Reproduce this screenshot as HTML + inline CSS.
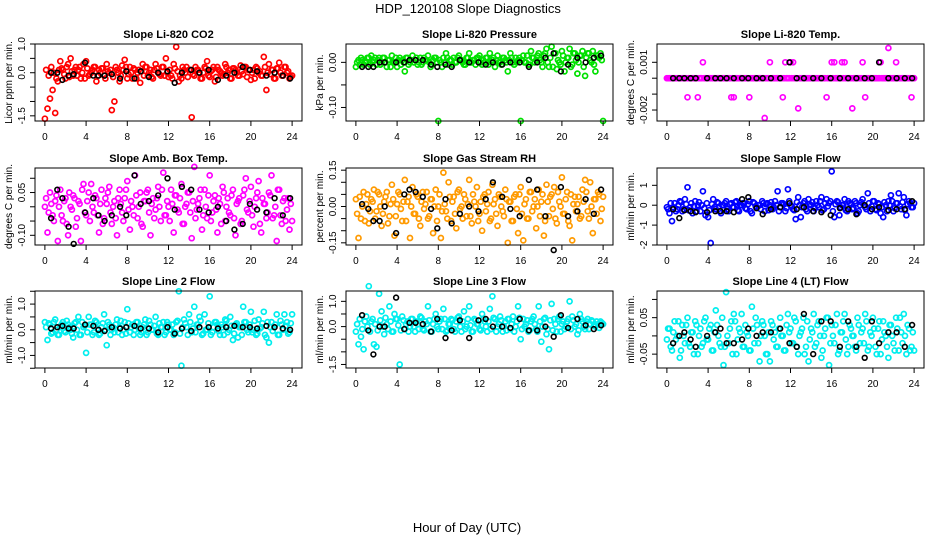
<!DOCTYPE html>
<html><head><meta charset="utf-8"><title>HDP_120108 Slope Diagnostics</title>
<style>
html,body{margin:0;padding:0;background:#fff;}
svg{display:block;font-family:"Liberation Sans",Arial,sans-serif;}
</style></head>
<body>
<svg id="chart" width="936" height="540" viewBox="0 0 936 540" xmlns="http://www.w3.org/2000/svg">
<rect x="0" y="0" width="936" height="540" fill="#fff"/>
<text x="468" y="13" text-anchor="middle" font-size="13">HDP_120108  Slope Diagnostics</text>
<text x="467" y="532" text-anchor="middle" font-size="13">Hour of Day (UTC)</text>
</svg>
<script>
// ---- shared x categories ----
const hours=[0,0.25,0.5,0.75,1,1.25,1.5,1.75,2,2.25,2.5,2.75,3,3.25,3.5,3.75,4,4.25,4.5,4.75,5,5.25,5.5,5.75,6,6.25,6.5,6.75,7,7.25,7.5,7.75,8,8.25,8.5,8.75,9,9.25,9.5,9.75,10,10.25,10.5,10.75,11,11.25,11.5,11.75,12,12.25,12.5,12.75,13,13.25,13.5,13.75,14,14.25,14.5,14.75,15,15.25,15.5,15.75,16,16.25,16.5,16.75,17,17.25,17.5,17.75,18,18.25,18.5,18.75,19,19.25,19.5,19.75,20,20.25,20.5,20.75,21,21.25,21.5,21.75,22,22.25,22.5,22.75,23,23.25,23.5,23.75,24];
const hours2=[0.12,0.37,0.62,0.87,1.12,1.37,1.62,1.87,2.12,2.37,2.62,2.87,3.12,3.37,3.62,3.87,4.12,4.37,4.62,4.87,5.12,5.37,5.62,5.87,6.12,6.37,6.62,6.87,7.12,7.37,7.62,7.87,8.12,8.37,8.62,8.87,9.12,9.37,9.62,9.87,10.12,10.37,10.62,10.87,11.12,11.37,11.62,11.87,12.12,12.37,12.62,12.87,13.12,13.37,13.62,13.87,14.12,14.37,14.62,14.87,15.12,15.37,15.62,15.87,16.12,16.37,16.62,16.87,17.12,17.37,17.62,17.87,18.12,18.37,18.62,18.87,19.12,19.37,19.62,19.87,20.12,20.37,20.62,20.87,21.12,21.37,21.62,21.87,22.12,22.37,22.62,22.87,23.12,23.37,23.62,23.87];
const blackHours=[0.6,1.2,1.7,2.3,2.8,3.9,4.7,5.2,5.8,6.5,7.3,7.9,8.7,9.3,10.1,11.0,11.9,12.6,13.3,14.2,15.0,15.9,16.8,17.6,18.4,19.2,19.9,20.6,21.5,22.3,23.1,23.8];
const xTicks=[0,4,8,12,16,20,24];

// ---- Panel 1: Li-820 CO2 ----
const co2Vals=[-1.6,-1.25,-0.9,-0.6,-1.4,-0.3,0.4,0.1,-0.2,0.3,0.5,-0.1,0.2,0.1,-0.2,0.3,0.4,-0.1,0.0,0.2,-0.3,0.1,0.15,-0.1,0.3,0.0,-1.3,-1.0,0.1,-0.3,0.25,0.45,-0.2,0.2,-0.2,0.1,0.0,-0.35,0.3,0.2,-0.1,0.1,-0.2,0.3,0.0,-0.1,0.2,0.5,-0.15,-0.1,0.3,0.9,-0.3,-0.2,0.1,0.2,0.1,-1.55,-0.1,0.1,0.0,-0.2,0.2,0.4,-0.15,0.1,-0.3,0.2,0.05,-0.1,0.3,0.0,-0.2,0.15,0.1,-0.1,0.25,-0.05,0.2,0.1,-0.25,0.1,0.2,0.0,-0.1,0.55,-0.6,0.3,0.1,-0.2,0.15,0.35,-0.1,0.2,0.0,-0.2,-0.1];
const co2Vals2=[0.1,-0.1,0.2,0.0,-0.2,0.1,0.15,-0.05,0.2,-0.15,0.05,0.1,-0.1,0.2,0.0,-0.2,0.15,-0.05,0.1,0.2,-0.1,0.0,0.15,-0.2,0.05,0.1,-0.15,0.2,0.0,-0.1,0.1,0.2,-0.05,0.0,0.15,-0.2,0.1,0.05,-0.1,0.2,0.0,-0.15,0.1,0.15,-0.05,0.2,-0.1,0.0,0.1,-0.2,0.15,0.05,-0.1,0.2,0.0,-0.15,0.1,-0.05,0.2,0.1,-0.2,0.0,0.15,-0.1,0.05,0.2,-0.15,0.1,0.0,-0.05,0.2,0.1,-0.2,0.15,0.0,-0.1,0.05,0.2,-0.15,0.1,0.0,-0.2,0.15,0.05,-0.1,0.2,0.0,-0.05,0.1,-0.2,0.15,0.0,-0.1,0.2,0.05,-0.15];
const co2Black=[0.0,0.0,-0.25,-0.1,-0.05,0.35,-0.1,-0.1,-0.1,-0.05,-0.2,0.05,-0.2,0.05,-0.15,0.0,0.05,-0.35,0.0,0.1,0.0,0.1,-0.25,-0.1,0.0,0.2,0.1,0.05,-0.1,0.0,-0.1,-0.2];
const co2Ticks=[-1.5,-1.0,-0.5,0.0,0.5,1.0];
const co2Labels=["-1.5","","","0.0","","1.0"];

// ---- Panel 2: Li-820 Pressure ----
const presVals=[-0.01,0.005,0.01,-0.005,0.0,0.01,0.015,0.005,-0.005,0.01,0.0,0.01,-0.01,0.005,0.015,0.0,-0.01,0.01,0.005,-0.02,0.01,0.0,0.015,0.005,-0.005,0.01,0.0,0.005,0.015,-0.01,0.005,0.01,-0.13,0.0,0.01,0.02,-0.005,0.005,0.01,0.0,0.015,0.005,-0.005,0.01,0.02,0.0,0.005,0.01,0.015,-0.005,0.0,0.01,0.02,0.005,-0.01,0.015,0.0,0.01,0.005,-0.02,0.02,0.0,0.01,0.005,-0.13,0.015,0.0,-0.005,0.025,0.01,0.005,0.02,0.0,0.015,0.03,-0.01,0.035,0.02,-0.015,0.0,0.025,-0.02,0.01,0.03,-0.005,0.02,-0.025,0.015,0.025,-0.03,0.02,0.005,0.025,-0.02,0.015,0.02,-0.13];
const presVals2=[0.0,-0.005,0.005,0.0,0.01,-0.005,0.0,0.01,0.005,-0.005,0.01,0.0,0.005,-0.01,0.0,0.01,0.005,-0.005,0.0,0.01,-0.005,0.005,0.0,0.01,0.0,-0.005,0.01,0.005,0.0,-0.005,0.01,0.0,0.005,-0.01,0.0,0.01,0.005,-0.005,0.0,0.01,0.005,0.0,-0.005,0.01,0.0,0.005,-0.005,0.01,0.0,0.005,0.01,-0.005,0.0,0.01,0.005,0.0,-0.005,0.01,0.0,0.005,0.01,-0.005,0.0,0.01,0.005,0.0,0.015,-0.005,0.01,0.0,0.015,0.005,-0.01,0.02,0.0,0.01,-0.01,0.02,0.005,-0.005,0.015,0.0,0.01,-0.01,0.02,0.005,0.0,0.015,-0.01,0.01,0.02,0.0,-0.005,0.015,0.01,0.005];
const presBlack=[-0.01,-0.01,-0.01,0.0,0.0,0.0,0.0,0.005,0.005,0.005,-0.005,-0.01,-0.005,-0.01,0.005,0.0,0.0,-0.005,0.0,-0.005,0.0,0.0,-0.01,0.0,0.01,0.02,-0.02,-0.005,0.01,0.0,0.01,0.015];
const presTicks=[-0.10,-0.05,0.00];
const presLabels=["-0.10","","0.00"];

// ---- Panel 3: Li-820 Temp ----
const tempVals=[0,0,0,0,0,0,0,0,-0.0012,0,0,0,-0.0012,0,0.001,0,0,0,0,0,0,0,0,0,0,-0.0012,-0.0012,0,0,0,0,0,-0.0012,0,0,0,0,0,-0.0025,0,0.001,0,0,0,0,-0.0012,0.001,0,0.001,0.001,0,-0.0019,0,0,0,0,0,0,0,0,0,0,-0.0012,0,0.001,0.001,0,0,0.001,0.001,0,0,-0.0019,0,0,0,0.001,-0.0012,0,0,0,0,0,0.001,0,0,0.0019,0,0,0.001,0,0,0,0,0,-0.0012,0];
const tempVals2=[0,0,0,0,0,0,0,0,0,0,0,0,0,0,0,0,0,0,0,0,0,0,0,0,0,0,0,0,0,0,0,0,0,0,0,0,0,0,0,0,0,0,0,0,0,0,0,0,0,0,0,0,0,0,0,0,0,0,0,0,0,0,0,0,0,0,0,0,0,0,0,0,0,0,0,0,0,0,0,0,0,0,0,0,0,0,0,0,0,0,0,0,0,0,0,0];
const tempBlack=[0,0,0,0,0,0,0,0,0,0,0,0,0,0,0,0,0.001,0,0,0,0,0,0,0,0,0,0,0.001,0,0,0,0];
const tempTicks=[-0.002,-0.001,0.000,0.001];
const tempLabels=["-0.002","","","0.001"];

// ---- Panel 4: Amb. Box Temp ----
const ambVals=[0.0,-0.09,0.05,-0.03,0.02,-0.12,0.06,-0.05,0.03,-0.1,0.0,0.04,-0.07,0.02,-0.12,0.08,-0.03,0.05,0.08,-0.02,0.03,-0.09,0.06,-0.04,0.01,0.07,-0.06,0.02,-0.1,0.06,-0.02,0.03,0.09,-0.08,0.0,0.11,-0.04,0.05,-0.07,0.02,0.06,-0.1,0.03,-0.01,0.07,-0.05,0.12,-0.03,0.0,0.06,-0.09,0.04,-0.02,0.08,-0.06,0.01,0.05,-0.11,0.14,-0.01,0.03,-0.08,0.06,-0.04,0.11,-0.02,0.04,-0.09,0.01,0.07,-0.05,0.03,-0.03,0.06,-0.1,0.02,-0.06,0.04,0.1,-0.02,0.07,-0.07,0.03,0.09,-0.09,0.01,-0.04,0.05,0.11,-0.03,-0.12,0.06,-0.06,0.03,-0.01,-0.08,-0.05];
const ambVals2=[0.03,-0.02,0.01,-0.05,0.04,0.0,-0.03,0.02,-0.06,0.05,-0.01,0.03,-0.04,0.01,0.06,-0.02,0.02,-0.05,0.0,0.04,-0.03,0.01,-0.06,0.03,0.05,-0.02,0.0,-0.04,0.03,0.01,-0.05,0.06,-0.01,0.02,-0.03,0.04,0.0,-0.06,0.02,0.05,-0.02,0.01,-0.04,0.03,0.0,0.06,-0.03,0.02,-0.05,0.01,0.04,-0.01,0.03,-0.06,0.0,0.05,-0.02,0.02,-0.04,0.01,0.06,-0.03,0.0,0.04,-0.05,0.02,-0.01,0.03,-0.06,0.05,0.0,-0.02,0.04,-0.04,0.01,0.03,-0.05,0.06,-0.01,0.02,-0.03,0.0,0.05,-0.06,0.03,0.01,-0.02,0.04,-0.04,0.0,0.06,-0.03,0.02,-0.05,0.03,0.01];
const ambBlack=[-0.04,0.06,0.03,-0.07,-0.13,-0.02,0.03,-0.03,-0.05,-0.03,0.0,-0.03,0.11,0.01,0.02,0.04,0.1,-0.01,0.07,0.06,-0.01,-0.02,0.0,-0.05,-0.08,-0.06,0.01,-0.01,-0.02,0.03,-0.03,0.03];
const ambTicks=[-0.10,-0.05,0.00,0.05,0.10];
const ambLabels=["-0.10","","","0.05",""];

// ---- Panel 5: Gas Stream RH ----
const rhVals=[0.03,-0.13,-0.05,0.06,0.01,-0.07,0.03,0.07,-0.02,0.05,-0.08,0.02,0.06,-0.04,0.09,-0.12,0.01,0.05,-0.06,0.11,0.02,-0.13,0.08,-0.03,0.04,-0.08,0.06,0.01,-0.05,0.03,-0.11,0.07,0.0,-0.13,0.14,-0.02,0.1,-0.06,0.04,-0.09,0.07,0.0,0.05,-0.04,0.11,-0.07,0.02,0.08,-0.03,-0.1,0.05,0.01,-0.06,0.09,0.03,-0.08,0.04,-0.02,0.07,-0.15,0.02,-0.06,0.05,-0.11,0.08,-0.14,0.03,-0.05,0.06,0.0,-0.09,0.07,0.02,-0.12,0.09,-0.04,0.05,0.08,-0.07,0.02,0.12,-0.03,0.06,-0.08,-0.14,0.04,0.01,-0.05,0.07,0.11,-0.02,0.1,-0.11,0.03,0.06,-0.06,0.04];
const rhVals2=[-0.03,0.04,0.0,-0.06,0.05,-0.02,0.02,-0.05,0.06,0.0,-0.03,0.04,-0.07,0.01,0.03,-0.04,0.06,-0.01,0.02,-0.06,0.04,0.0,-0.03,0.05,-0.05,0.02,-0.01,0.06,-0.04,0.03,0.0,-0.06,0.05,-0.02,0.01,-0.05,0.04,0.02,-0.03,0.06,-0.01,-0.05,0.03,0.01,-0.04,0.05,0.0,-0.06,0.02,0.04,-0.02,0.06,-0.05,0.01,-0.03,0.05,0.0,-0.04,0.03,0.02,-0.06,0.04,-0.01,0.05,-0.03,0.01,-0.05,0.06,-0.02,0.03,0.0,-0.04,0.05,-0.06,0.02,0.04,-0.01,-0.05,0.06,0.0,-0.03,0.03,-0.06,0.05,0.01,-0.02,0.04,-0.04,0.02,0.06,-0.05,0.0,0.03,-0.03,0.05,-0.01];
const rhBlack=[0.01,-0.01,-0.06,-0.06,0.0,-0.11,0.05,0.07,0.06,0.04,-0.01,-0.09,0.03,-0.07,-0.03,0.0,-0.02,0.03,0.1,0.04,-0.01,-0.04,0.11,0.07,-0.04,-0.18,0.08,-0.04,-0.02,0.03,-0.03,0.07];
const rhTicks=[-0.15,-0.10,-0.05,0.00,0.05,0.10,0.15];
const rhLabels=["-0.15","","","0.00","","","0.15"];

// ---- Panel 6: Sample Flow ----
const sampVals=[-0.1,-0.4,-0.8,0.1,-0.2,0.2,-0.3,0.3,0.9,-0.1,-0.4,0.2,0.0,-0.3,0.7,-0.5,-0.6,-1.9,0.3,-0.2,0.1,-0.4,0.0,0.2,-0.3,0.1,-0.1,0.2,-0.3,0.0,0.1,-0.2,0.2,-0.4,0.1,-0.1,0.0,0.2,-0.3,0.1,0.0,-0.2,0.2,0.7,-0.1,0.1,-0.3,0.8,0.0,-0.2,-0.7,0.4,-0.6,0.1,-0.2,0.3,0.0,-0.3,0.2,-0.1,0.4,-0.2,0.3,0.1,1.7,-0.6,0.2,-0.5,0.0,0.3,-0.3,0.1,-0.2,0.2,-0.4,0.0,0.3,-0.1,0.6,-0.3,0.2,-0.2,0.1,-0.4,-0.6,0.0,0.2,0.5,-0.3,0.1,0.6,-0.2,0.4,-0.5,0.2,-0.1,0.1];
const sampVals2=[-0.2,0.1,-0.1,-0.3,0.0,0.15,-0.2,0.05,-0.25,0.1,-0.05,-0.3,0.15,0.0,-0.15,0.1,-0.25,0.05,-0.1,0.15,-0.3,0.0,0.1,-0.2,0.05,-0.1,0.15,-0.25,0.0,0.1,-0.15,0.05,-0.3,0.15,-0.05,0.0,-0.2,0.1,0.05,-0.25,0.15,-0.1,0.0,-0.3,0.1,0.05,-0.15,0.2,-0.05,-0.25,0.15,0.0,-0.1,0.2,-0.3,0.05,0.15,-0.15,0.0,0.2,-0.25,0.1,-0.05,0.2,-0.3,0.05,0.15,-0.1,0.0,-0.25,0.2,0.05,-0.15,0.1,-0.3,0.15,0.0,-0.2,0.1,-0.05,0.2,-0.25,0.05,-0.1,0.15,-0.3,0.0,0.2,-0.15,0.1,-0.05,0.15,-0.25,0.05,0.1,-0.1];
const sampBlack=[-0.2,-0.65,-0.25,-0.3,-0.35,-0.35,-0.3,-0.3,-0.3,-0.35,0.3,0.4,-0.15,-0.45,-0.2,-0.1,0.1,-0.2,-0.1,-0.3,-0.35,-0.5,-0.15,-0.2,-0.45,0.0,-0.2,-0.1,-0.25,-0.2,-0.2,0.2];
const sampTicks=[-2,-1,0,1];
const sampLabels=["-2","-1","0","1"];

// ---- Panel 7: Line 2 Flow ----
const l2Vals=[0.3,-0.4,0.2,-0.1,0.4,-0.2,0.1,0.3,-0.1,0.2,0.0,-0.3,0.3,0.5,-0.2,0.1,-0.9,0.5,0.2,-0.1,0.3,-0.2,0.1,0.6,-0.6,0.2,0.0,-0.1,0.4,0.1,-0.2,0.3,0.8,-0.1,0.2,0.0,0.3,-0.2,0.1,0.4,-0.1,0.2,0.0,0.5,-0.2,0.1,0.3,-0.1,0.2,0.0,-0.2,0.3,1.5,-1.4,0.4,0.1,0.6,-0.1,0.9,0.2,0.5,-0.2,0.6,0.0,1.3,-0.1,0.3,0.2,-0.2,0.1,0.4,-0.1,0.5,-0.4,0.2,-0.3,0.1,0.9,0.3,-0.1,0.7,0.0,-0.2,0.4,0.1,0.7,-0.3,-0.5,0.3,0.1,0.6,-0.2,0.2,0.6,0.3,-0.1,0.6];
const l2Vals2=[0.1,0.25,-0.15,0.3,0.0,-0.2,0.2,-0.05,0.35,0.1,-0.15,0.25,0.0,-0.2,0.3,0.15,-0.1,0.2,-0.2,0.35,0.05,-0.15,0.25,0.0,0.3,-0.2,0.1,0.2,-0.1,0.35,0.0,-0.15,0.25,0.1,-0.2,0.3,0.05,-0.1,0.2,-0.2,0.35,0.0,0.15,-0.15,0.25,0.1,-0.2,0.3,0.0,0.2,-0.1,0.35,-0.15,0.1,0.25,-0.2,0.3,0.05,-0.1,0.2,0.35,-0.15,0.0,0.25,-0.2,0.1,0.3,-0.05,0.2,-0.2,0.35,0.0,0.15,-0.15,0.25,0.1,-0.2,0.3,0.0,0.2,-0.1,0.35,-0.15,0.05,0.25,-0.2,0.3,0.1,-0.05,0.2,-0.2,0.35,0.0,0.15,-0.15,0.25];
const l2Black=[0.05,0.1,0.15,0.05,0.05,0.2,0.15,0.0,-0.05,0.1,0.05,0.1,0.15,0.05,0.05,-0.1,0.1,-0.15,0.05,-0.05,0.1,0.1,0.05,0.1,0.15,0.1,0.1,0.05,0.15,0.1,0.05,0.0];
const l2Ticks=[-1.5,-1.0,-0.5,0.0,0.5,1.0,1.5];
const l2Labels=["","-1.0","","0.0","","1.0",""];

// ---- Panel 8: Line 3 Flow ----
const l3Vals=[-0.2,-0.7,-0.4,-0.9,0.4,1.6,0.2,-0.7,-0.8,1.3,0.6,-0.3,0.1,0.8,-0.2,0.5,0.3,-1.5,0.4,-0.1,0.2,0.0,0.3,-0.2,0.1,0.4,-0.1,0.2,0.8,-0.2,0.1,0.5,-0.1,0.3,0.7,-0.2,0.1,0.3,-0.1,0.2,0.4,-0.2,0.6,0.0,0.8,-0.2,0.3,0.1,-0.1,0.5,0.2,-0.2,0.7,1.2,0.3,0.0,0.4,-0.2,0.2,0.3,-0.1,0.4,0.0,0.8,-0.5,0.3,0.1,-0.2,0.2,0.4,-0.1,0.8,-0.6,0.3,-0.3,-0.9,0.9,0.3,-0.2,0.4,0.1,-0.1,0.2,1.0,0.4,0.0,-0.3,0.5,0.2,-0.1,0.3,0.1,0.2,0.0,0.1,0.2,0.1];
const l3Vals2=[0.1,0.3,-0.1,0.2,0.0,-0.2,0.3,0.1,-0.15,0.25,0.0,0.35,-0.1,0.2,-0.2,0.3,0.05,-0.15,0.25,0.1,-0.2,0.3,0.0,0.2,-0.1,0.35,-0.15,0.1,0.25,-0.2,0.3,0.0,0.2,-0.1,0.3,-0.15,0.1,0.25,-0.2,0.35,0.0,0.2,-0.1,0.3,0.05,-0.2,0.25,0.1,-0.15,0.3,0.0,0.2,-0.1,0.35,-0.2,0.1,0.25,0.0,-0.15,0.3,0.1,-0.2,0.2,0.35,-0.1,0.0,0.25,-0.15,0.3,0.1,-0.2,0.2,0.0,0.35,-0.1,0.25,-0.15,0.1,0.3,-0.2,0.2,0.0,0.3,-0.1,0.25,0.1,-0.15,0.3,0.0,0.2,-0.1,0.25,0.05,0.2,-0.05,0.15];
const l3Black=[0.45,-0.15,-1.1,0.0,0.0,1.15,-0.1,0.15,0.15,0.1,-0.2,0.3,-0.45,-0.15,0.25,-0.45,0.25,0.3,0.0,0.0,-0.05,0.3,-0.15,-0.15,0.0,-0.4,0.45,-0.05,0.3,0.05,-0.1,0.05];
const l3Ticks=[-1.5,-1.0,-0.5,0.0,0.5,1.0];
const l3Labels=["-1.5","","","0.0","","1.0"];

// ---- Panel 9: Line 4 (LT) Flow ----
const l4Vals=[-0.01,0.02,-0.04,0.04,0.0,-0.06,0.03,-0.02,0.05,-0.03,0.01,0.04,-0.05,0.02,-0.02,0.05,-0.01,0.03,-0.04,0.07,0.0,-0.03,-0.08,0.12,-0.02,0.04,0.06,-0.05,0.02,0.06,-0.03,0.01,-0.04,0.08,-0.02,0.03,-0.07,0.04,0.0,-0.05,-0.07,0.03,0.01,-0.03,0.05,0.0,-0.04,0.06,0.02,-0.02,0.04,-0.05,0.01,0.05,-0.03,-0.07,0.02,0.06,-0.02,0.04,-0.06,0.0,0.05,-0.08,0.03,-0.02,0.06,-0.04,0.01,0.06,-0.05,0.03,0.0,-0.03,0.05,-0.02,0.02,0.06,-0.04,0.01,0.05,-0.03,0.02,-0.05,0.04,0.0,-0.06,0.03,-0.02,0.05,-0.04,0.01,0.06,-0.05,0.02,-0.03,-0.04];
const l4Vals2=[0.02,-0.03,0.01,-0.01,0.04,-0.04,0.0,0.03,-0.02,0.01,-0.05,0.03,0.0,-0.03,0.04,-0.01,0.02,-0.04,0.01,0.03,-0.02,0.05,-0.03,0.0,0.02,-0.05,0.04,-0.01,0.01,-0.03,0.03,0.0,-0.04,0.02,0.05,-0.02,0.0,0.03,-0.05,0.01,0.04,-0.01,-0.03,0.02,0.0,-0.04,0.03,0.01,-0.02,0.05,-0.03,0.0,0.02,-0.05,0.04,-0.01,0.01,-0.03,0.03,0.0,-0.04,0.02,0.05,-0.02,0.0,0.03,-0.05,0.01,0.04,-0.01,-0.03,0.02,0.0,-0.04,0.03,0.01,-0.02,0.04,-0.03,0.0,0.02,-0.05,0.04,-0.01,0.01,-0.03,0.03,0.0,-0.04,0.02,0.05,-0.02,0.0,0.03,-0.04,0.01];
const l4Black=[-0.02,0.0,0.01,-0.01,-0.03,0.0,0.01,0.02,-0.02,-0.02,-0.01,0.02,0.0,0.01,0.01,0.02,-0.02,-0.03,0.06,-0.05,0.04,0.04,-0.03,0.04,-0.03,-0.06,0.04,-0.02,0.01,0.01,-0.03,0.03];
const l4Ticks=[-0.05,0.00,0.05,0.10];
const l4Labels=["-0.05","","0.05",""];

// ---- layout (not data) ----
const colL=[35,346,657], rowT=[44,168,291];
const BW=267, BH=77;
const panels=[
 {name:"co2",title:"Slope Li-820 CO2",ylab:"Licor ppm per min.",c:0,r:0,y0:-1.68,y1:1.0,vals:co2Vals,vals2:co2Vals2,blk:co2Black,ticks:co2Ticks,labels:co2Labels,col:"#ff0000"},
 {name:"pressure",title:"Slope Li-820 Pressure",ylab:"kPa per min.",c:1,r:0,y0:-0.130,y1:0.0407,vals:presVals,vals2:presVals2,blk:presBlack,ticks:presTicks,labels:presLabels,col:"#00e000"},
 {name:"temp",title:"Slope Li-820 Temp.",ylab:"degrees C per min.",c:2,r:0,y0:-0.00269,y1:0.00215,vals:tempVals,vals2:tempVals2,blk:tempBlack,ticks:tempTicks,labels:tempLabels,col:"#ff00ff"},
 {name:"amb-temp",title:"Slope Amb. Box Temp.",ylab:"degrees C per min.",c:0,r:1,y0:-0.134,y1:0.136,vals:ambVals,vals2:ambVals2,blk:ambBlack,ticks:ambTicks,labels:ambLabels,col:"#ff00ff"},
 {name:"rh",title:"Slope Gas Stream RH",ylab:"percent per min.",c:1,r:1,y0:-0.159,y1:0.159,vals:rhVals,vals2:rhVals2,blk:rhBlack,ticks:rhTicks,labels:rhLabels,col:"#ff9a00"},
 {name:"sample-flow",title:"Slope Sample Flow",ylab:"ml/min per min.",c:2,r:1,y0:-2.0,y1:1.87,vals:sampVals,vals2:sampVals2,blk:sampBlack,ticks:sampTicks,labels:sampLabels,col:"#0000ff"},
 {name:"line2-flow",title:"Slope Line 2 Flow",ylab:"ml/min per min.",c:0,r:2,y0:-1.49,y1:1.51,vals:l2Vals,vals2:l2Vals2,blk:l2Black,ticks:l2Ticks,labels:l2Labels,col:"#00eeee"},
 {name:"line3-flow",title:"Slope Line 3 Flow",ylab:"ml/min per min.",c:1,r:2,y0:-1.64,y1:1.41,vals:l3Vals,vals2:l3Vals2,blk:l3Black,ticks:l3Ticks,labels:l3Labels,col:"#00eeee"},
 {name:"line4-flow",title:"Slope Line 4 (LT) Flow",ylab:"ml/min per min.",c:2,r:2,y0:-0.088,y1:0.1231,vals:l4Vals,vals2:l4Vals2,blk:l4Black,ticks:l4Ticks,labels:l4Labels,col:"#00eeee"}
];
const NS="http://www.w3.org/2000/svg";
const svg=document.getElementById('chart');
function mk(tag,attrs,parent){const e=document.createElementNS(NS,tag);for(const k in attrs)e.setAttribute(k,attrs[k]);(parent||svg).appendChild(e);return e;}

panels.forEach(p=>{
  const L=colL[p.c], T=rowT[p.r];
  const g=mk('g',{});
  
  
  const xS=h=>L+(h+0.96)*(BW/25.92);
  const yS=v=>T+BH*(p.y1-v)/(p.y1-p.y0);
  const t=mk('text',{x:L+BW/2,y:T-6,'text-anchor':'middle','font-size':'11','font-weight':'bold'},g);
  t.textContent=p.title;
  
  
  const pg=mk('g',{fill:'none',stroke:p.col,'stroke-width':'1.7'},g);
  
  
  const n2=Math.min(hours2.length,p.vals2.length);
  for(let i=0;i<n2;i++){
    const c=mk('circle',{cx:xS(hours2[i]).toFixed(1),cy:yS(p.vals2[i]).toFixed(1),r:'2.5'},pg);
    
    
  }
  const n=Math.min(hours.length,p.vals.length);
  for(let i=0;i<n;i++){
    const c=mk('circle',{cx:xS(hours[i]).toFixed(1),cy:yS(p.vals[i]).toFixed(1),r:'2.5'},pg);
    
    
  }
  const bg=mk('g',{fill:'none',stroke:'#000','stroke-width':'1.6'},g);
  
  
  const m=Math.min(blackHours.length,p.blk.length);
  for(let i=0;i<m;i++){
    const c=mk('circle',{cx:xS(blackHours[i]).toFixed(1),cy:yS(p.blk[i]).toFixed(1),r:'2.4'},bg);
    
    
  }
  const b=mk('rect',{x:L,y:T,width:BW,height:BH,fill:'none',stroke:'#000','stroke-width':'1'},g);
  
  
  const xa=mk('g',{},g);
  
  
  mk('line',{x1:xS(xTicks[0]),x2:xS(xTicks[xTicks.length-1]),y1:T+BH,y2:T+BH,stroke:'#000'},xa);
  xTicks.forEach(h=>{
    const x=xS(h);
    mk('line',{x1:x,x2:x,y1:T+BH,y2:T+BH+5,stroke:'#000'},xa);
    const lt=mk('text',{x:x,y:T+BH+19,'text-anchor':'middle','font-size':'10'},xa);
    lt.textContent=String(h);
    
    
  });
  const ya=mk('g',{},g);
  
  
  mk('line',{x1:L,x2:L,y1:yS(p.ticks[0]),y2:yS(p.ticks[p.ticks.length-1]),stroke:'#000'},ya);
  p.ticks.forEach((v,i)=>{
    const y=yS(v);
    mk('line',{x1:L-5,x2:L,y1:y,y2:y,stroke:'#000'},ya);
    if(p.labels[i]){
      const lt=mk('text',{x:0,y:0,'text-anchor':'middle','font-size':'10',transform:`translate(${L-10},${y}) rotate(-90)`},ya);
      lt.textContent=p.labels[i];
      
      
    }
  });
  const yl=mk('text',{x:0,y:0,'text-anchor':'middle','font-size':'10',transform:`translate(${L-23},${T+BH/2}) rotate(-90)`},g);
  yl.textContent=p.ylab;
  
  
});
</script>
</body></html>
